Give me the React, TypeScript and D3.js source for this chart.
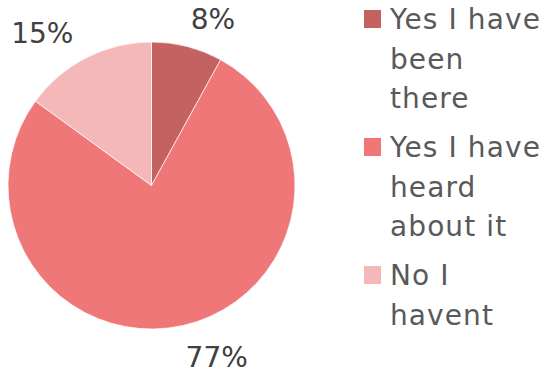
import React from "react";
import * as d3 from "d3";

const categories = ["Yes I have been there", "Yes I have heard about it", "No I havent"];
const values = [8, 77, 15];
const legendLines = [["Yes I have", "been", "there"], ["Yes I have", "heard", "about it"], ["No I", "havent"]];
const colors = ["#C46262", "#F07777", "#F5B8B8"];

const W = 556, H = 375;
const cx = 151.5, cy = 185.5, R = 143.5;

export default function App() {
  const pie = d3.pie<number>().sort(null).value((d) => d);
  const arcs = pie(values);
  const arc = d3.arc<d3.PieArcDatum<number>>().innerRadius(0).outerRadius(R);
  const total = d3.sum(values);
  const lineH = 39.5;
  const fs = 28;
  let yCursor = 29;
  const legendItems = legendLines.map((lines, i) => {
    const y0 = yCursor;
    yCursor += lines.length * lineH + 9.5;
    return { lines, y0, i };
  });
  return (
    <svg width={W} height={H} style={{ position: "absolute", left: 0, top: 0 }}>
      <rect width={W} height={H} fill="#fff" />
      <g transform={`translate(${cx},${cy})`}>
        {arcs.map((a, i) => (
          <path key={i} d={arc(a) || ""} fill={colors[i]} stroke="#fff" strokeWidth={0.7} />
        ))}
        {arcs.map((a, i) => {
          const mid = (a.startAngle + a.endAngle) / 2;
          const s = Math.sin(mid), c = Math.cos(mid);
          const rr = R + 22;
          const x = s * rr - (s >= 0 ? 2 : 3);
          const y = -c * rr - c * 8 + 12;
          return (
            <text key={"l" + i} x={x} y={y} textAnchor={s >= 0 ? "start" : "end"}
              fontFamily="DejaVu Sans" fontSize={28} fill="#404040">
              {Math.round((values[i] / total) * 100) + "%"}
            </text>
          );
        })}
      </g>
      {legendItems.map(({ lines, y0, i }) => (
        <g key={"lg" + i}>
          <rect x={364} y={y0 - 19} width={17} height={18} fill={colors[i]} />
          {lines.map((t, j) => (
            <text key={j} x={390} y={y0 + j * lineH} fontFamily="DejaVu Sans" fontSize={fs}
              fill="#595959" letterSpacing={1.1}>{t}</text>
          ))}
        </g>
      ))}
    </svg>
  );
}
